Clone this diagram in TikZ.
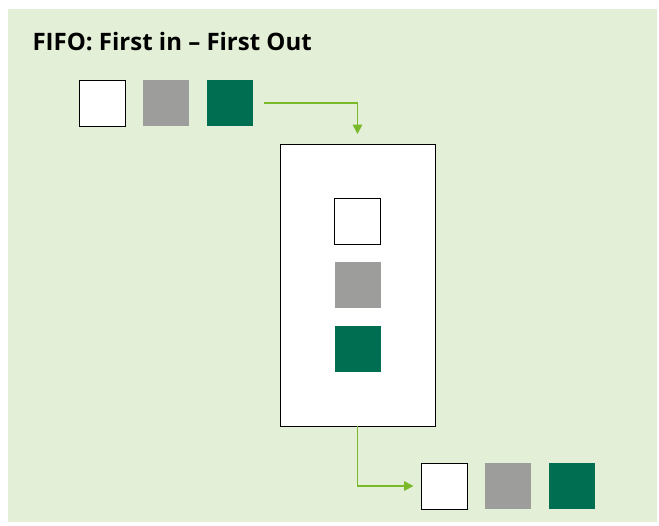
\documentclass[tikz,border=0pt]{standalone}
\usepackage{fontspec}
\setmainfont{Open Sans}
\usetikzlibrary{arrows.meta}

\definecolor{panelgreen}{RGB}{227,239,214}
\definecolor{itemgray}{RGB}{157,157,156}
\definecolor{itemgreen}{RGB}{0,111,81}
\definecolor{flowgreen}{RGB}{122,185,41}

\tikzset{every picture/.style={line width=0.75pt}}
\tikzset{
  item/.style={minimum size=34.5pt, inner sep=0pt, outer sep=0pt},
  whiteitem/.style={item, draw=black, fill=white},
  grayitem/.style={item, fill=itemgray},
  greenitem/.style={item, fill=itemgreen},
  flow/.style={draw=flowgreen, line width=1.4pt, -{Triangle[length=7pt,width=7pt]}}
}

\begin{document}
\begin{tikzpicture}[x=0.75pt,y=0.75pt,yscale=-1,xscale=1]
\useasboundingbox (0,0) rectangle (659,525);

%Shape: Rectangle [panel]
\fill [panelgreen] (8,9) rectangle (657,522);

%Title
\node [anchor=base west, inner sep=0pt, font=\bfseries\fontsize{18pt}{21pt}\selectfont] (title) at (32,50) {FIFO: First in – First Out};

%Items in
\node [whiteitem] (in1) at (102.5,103) {};
\node [grayitem] (in2) at (166,103) {};
\node [greenitem] (in3) at (230,103) {};

%Shape: Rectangle [queue]
\node [draw=black, fill=white, minimum width=116.25pt, minimum height=211.5pt, inner sep=0pt, outer sep=0pt] (queue) at (357.5,285) {};

%Items in queue
\node [whiteitem] (q1) at (357.5,221) {};
\node [grayitem] (q2) at (357.5,284.5) {};
\node [greenitem] (q3) at (357.5,348.5) {};

%Items out
\node [whiteitem] (out1) at (444.5,486) {};
\node [grayitem] (out2) at (508,486) {};
\node [greenitem] (out3) at (572,486) {};

%Connectors
\draw [flow] ([xshift=8.25pt]in3.east) -| ([yshift=-7.5pt]queue.north);
\draw [flow, shorten >=6pt] (queue.south) |- (out1.west);

\end{tikzpicture}
\end{document}
